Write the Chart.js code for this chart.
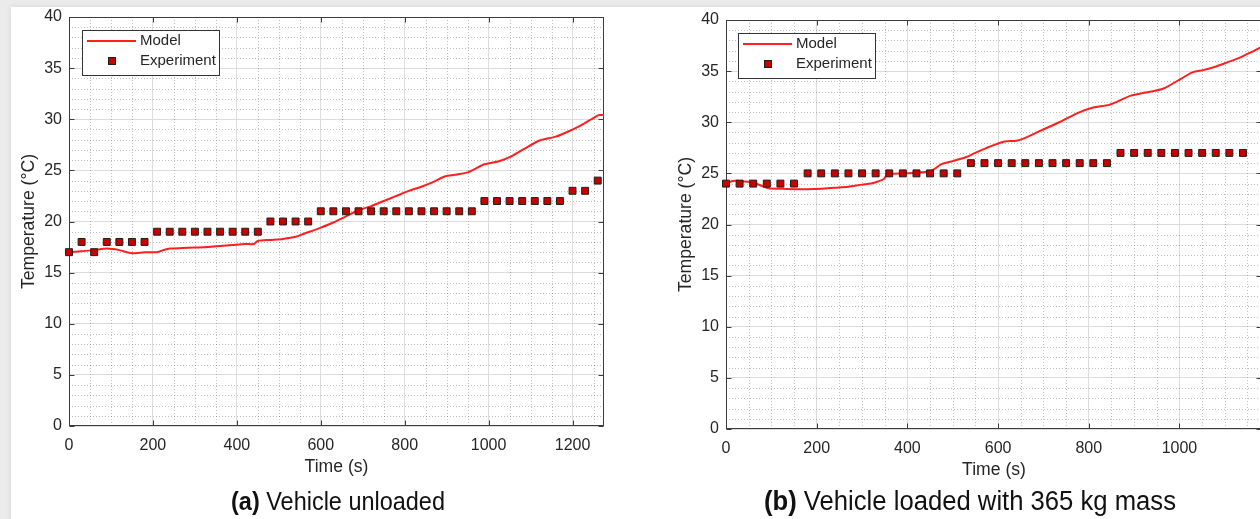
<!DOCTYPE html>
<html>
<head>
<meta charset="utf-8">
<script src="https://cdn.jsdelivr.net/npm/chart.js@4.4.0/dist/chart.umd.min.js"></script>
<style>
html,body{margin:0;padding:0;width:1260px;height:519px;overflow:hidden;background:#ebebeb;}
#page{position:absolute;left:11px;top:7px;width:1400px;height:600px;background:#fff;box-shadow:0 0 5px rgba(0,0,0,0.10);}
.wrap{position:absolute;top:0;height:519px;}
#w1{left:0;width:640px;}
#w2{left:640px;width:720px;}
canvas{display:block;}
.cap{position:absolute;top:486px;font-family:'Liberation Sans',Arial,sans-serif;line-height:30px;color:#111;white-space:nowrap;transform-origin:50% 50%;}
#cap1{left:338px;font-size:25.5px;transform:translateX(-50%) scaleX(0.92);}
#cap2{left:970px;font-size:27px;transform:translateX(-50%) scaleX(0.95);}
.cap b{font-weight:bold;}
</style>
</head>
<body>
<div id="page"></div>
<div class="wrap" id="w1"><canvas id="c1" width="640" height="519"></canvas></div>
<div class="wrap" id="w2"><canvas id="c2" width="720" height="519"></canvas></div>
<div class="cap" id="cap1"><b>(a)</b> Vehicle unloaded</div>
<div class="cap" id="cap2"><b>(b)</b> Vehicle loaded with 365 kg mass</div>
<script>
// ---------- data ----------
const xTicks = [0, 200, 400, 600, 800, 1000, 1200];
const yTicks = [0, 5, 10, 15, 20, 25, 30, 35, 40];

const leftModelTime = [0, 30, 60, 90, 120, 150, 180, 210, 225, 240, 270, 300, 330, 360, 390, 420, 440, 450, 480, 510, 540, 560, 600, 630, 660, 690, 720, 750, 780, 810, 840, 870, 895, 925, 950, 970, 990, 1025, 1055, 1085, 1120, 1160, 1190, 1220, 1245, 1262, 1275];
const leftModelTemp = [17.0, 17.1, 17.2, 17.35, 17.2, 16.9, 17.0, 17.0, 17.2, 17.35, 17.4, 17.45, 17.5, 17.6, 17.7, 17.8, 17.8, 18.1, 18.2, 18.3, 18.5, 18.8, 19.4, 19.9, 20.5, 21.1, 21.5, 22.0, 22.5, 23.0, 23.4, 23.9, 24.4, 24.6, 24.8, 25.2, 25.6, 25.9, 26.4, 27.1, 27.9, 28.3, 28.8, 29.4, 30.0, 30.4, 30.4];

const leftExpTime = [0, 30, 60, 90, 120, 150, 180, 210, 240, 270, 300, 330, 360, 390, 420, 450, 480, 510, 540, 570, 600, 630, 660, 690, 720, 750, 780, 810, 840, 870, 900, 930, 960, 990, 1020, 1050, 1080, 1110, 1140, 1170, 1200, 1230, 1260];
const leftExpTemp = [17, 18, 17, 18, 18, 18, 18, 19, 19, 19, 19, 19, 19, 19, 19, 19, 20, 20, 20, 20, 21, 21, 21, 21, 21, 21, 21, 21, 21, 21, 21, 21, 21, 22, 22, 22, 22, 22, 22, 22, 23, 23, 24];

const rightModelTime = [0, 15, 30, 60, 80, 95, 120, 150, 180, 210, 240, 270, 300, 320, 335, 348, 356, 390, 420, 450, 462, 475, 500, 530, 545, 575, 612, 640, 656, 695, 735, 775, 806, 845, 862, 893, 925, 965, 1005, 1030, 1052, 1077, 1108, 1132, 1156, 1182];
const rightModelTemp = [24.0, 24.25, 24.25, 24.1, 23.75, 23.55, 23.5, 23.45, 23.45, 23.5, 23.6, 23.7, 23.9, 24.0, 24.2, 24.45, 24.9, 25.0, 25.05, 25.2, 25.5, 25.9, 26.2, 26.6, 26.9, 27.5, 28.1, 28.2, 28.4, 29.2, 30.0, 30.9, 31.4, 31.7, 32.0, 32.6, 32.9, 33.3, 34.3, 34.9, 35.1, 35.4, 35.9, 36.3, 36.8, 37.4];

const rightExpTime = [0, 30, 60, 90, 120, 150, 180, 210, 240, 270, 300, 330, 360, 390, 420, 450, 480, 510, 540, 570, 600, 630, 660, 690, 720, 750, 780, 810, 840, 870, 900, 930, 960, 990, 1020, 1050, 1080, 1110, 1140];
const rightExpTemp = [24, 24, 24, 24, 24, 24, 25, 25, 25, 25, 25, 25, 25, 25, 25, 25, 25, 25, 26, 26, 26, 26, 26, 26, 26, 26, 26, 26, 26, 27, 27, 27, 27, 27, 27, 27, 27, 27, 27];

const seriesNames = ['Model', 'Experiment'];
const xTitle = 'Time (s)';
const yTitle = 'Temperature (°C)';

// ---------- styling ----------
const FONT = "'Liberation Sans', Arial, sans-serif";
const AXIS_COLOR = '#3c3c3c';
const TEXT_COLOR = '#262626';
const LINE_COLOR = '#ff1f1f';
const MARK_FILL = '#c80000';
const MARK_EDGE = '#1e1e1e';

const matlabFrame = {
  id: 'matlabFrame',
  beforeDatasetsDraw(chart) {
    const {ctx, chartArea: a, scales: {x, y}} = chart;
    ctx.save();
    // minor dotted grid
    ctx.strokeStyle = 'rgba(60,60,60,0.32)';
    ctx.lineWidth = 1;
    ctx.setLineDash([1, 2]);
    ctx.beginPath();
    for (let v = 50; v < x.max; v += 50) {
      if (v % 200 === 0) continue;
      const px = Math.round(x.getPixelForValue(v)) + 0.5;
      ctx.moveTo(px, a.top); ctx.lineTo(px, a.bottom);
    }
    for (let v = 1; v < y.max; v += 1) {
      if (v % 5 === 0) continue;
      const py = Math.round(y.getPixelForValue(v)) + 0.5;
      ctx.moveTo(a.left, py); ctx.lineTo(a.right, py);
    }
    ctx.stroke();
    ctx.setLineDash([]);
    // box
    ctx.strokeStyle = AXIS_COLOR;
    ctx.lineWidth = 1;
    const L = Math.round(a.left) + 0.5, R = Math.round(a.right) - 0.5;
    const T = Math.round(a.top) + 0.5, B = Math.round(a.bottom) - 0.5;
    ctx.strokeRect(L, T, R - L, B - T);
    // inward ticks
    ctx.beginPath();
    const tl = 5;
    xTicks.forEach(v => {
      if (v > x.max) return;
      const px = Math.round(x.getPixelForValue(v)) + 0.5;
      ctx.moveTo(px, B); ctx.lineTo(px, B - tl);
      ctx.moveTo(px, T); ctx.lineTo(px, T + tl);
    });
    yTicks.forEach(v => {
      const py = Math.round(y.getPixelForValue(v)) + 0.5;
      ctx.moveTo(L, py); ctx.lineTo(L + tl, py);
      ctx.moveTo(R, py); ctx.lineTo(R - tl, py);
    });
    ctx.stroke();
    ctx.restore();
  },
  afterDraw(chart, args, opts) {
    if (!opts || opts.x == null) return;
    const ctx = chart.ctx;
    const bx = opts.x, by = opts.y, bw = 137, bh = 45;
    ctx.save();
    ctx.fillStyle = '#ffffff';
    ctx.fillRect(bx, by, bw, bh);
    ctx.strokeStyle = '#333333';
    ctx.lineWidth = 1;
    ctx.strokeRect(bx + 0.5, by + 0.5, bw, bh);
    const r1 = by + 11, r2 = by + 31;
    ctx.strokeStyle = LINE_COLOR;
    ctx.lineWidth = 2;
    ctx.beginPath(); ctx.moveTo(bx + 5, r1); ctx.lineTo(bx + 54, r1); ctx.stroke();
    ctx.fillStyle = MARK_FILL;
    ctx.strokeStyle = MARK_EDGE;
    ctx.lineWidth = 1;
    ctx.fillRect(bx + 26.5, r2 - 3.5, 7, 7);
    ctx.strokeRect(bx + 26.5, r2 - 3.5, 7, 7);
    ctx.fillStyle = TEXT_COLOR;
    ctx.font = "15px " + FONT;
    ctx.textBaseline = 'middle';
    ctx.textAlign = 'left';
    ctx.fillText(seriesNames[0], bx + 58, r1);
    ctx.fillText(seriesNames[1], bx + 58, r2);
    ctx.restore();
  }
};

function makeChart(id, mT, mV, eT, eV, geo) {
  const modelPts = mT.map((t, i) => ({x: t, y: mV[i]}));
  const expPts = eT.map((t, i) => ({x: t, y: eV[i]}));
  return new Chart(document.getElementById(id), {
    type: 'line',
    data: {
      datasets: [
        {label: seriesNames[0], data: modelPts, borderColor: LINE_COLOR, borderWidth: 2, pointRadius: 0, tension: 0.25, fill: false, order: 2},
        {label: seriesNames[1], data: expPts, showLine: false, pointStyle: 'rect', pointRadius: 4.9, pointHoverRadius: 4.9,
         backgroundColor: MARK_FILL, borderColor: MARK_EDGE, pointBorderWidth: 1, borderWidth: 1, clip: false, order: 1}
      ]
    },
    options: {
      responsive: false,
      animation: false,
      events: [],
      layout: {padding: geo.padding},
      plugins: {legend: {display: false}, tooltip: {enabled: false}, matlabFrame: geo.legend},
      scales: {
        x: {
          type: 'linear', min: 0, max: geo.xmax,
          afterBuildTicks: s => { s.ticks = xTicks.filter(v => v <= geo.xmax).map(v => ({value: v})); },
          afterFit: s => { s.height = 52; },
          grid: {color: '#dcdcdc', lineWidth: 1, drawTicks: false},
          border: {display: false},
          ticks: {color: TEXT_COLOR, font: {family: FONT, size: 16}, padding: geo.xpad, maxRotation: 0, autoSkip: false, callback: v => String(v)},
          title: {display: true, text: xTitle, color: TEXT_COLOR, font: {family: FONT, size: 17.6}, padding: {top: 0, bottom: 0}}
        },
        y: {
          type: 'linear', min: 0, max: 40,
          afterBuildTicks: s => { s.ticks = yTicks.map(v => ({value: v})); },
          afterFit: s => { s.width = 50; },
          grid: {color: '#dcdcdc', lineWidth: 1, drawTicks: false},
          border: {display: false},
          ticks: {color: TEXT_COLOR, font: {family: FONT, size: 16}, padding: 7, callback: v => String(v)},
          title: {display: true, text: yTitle, color: TEXT_COLOR, font: {family: FONT, size: 17.6}, padding: {top: 0, bottom: 0}}
        }
      }
    },
    plugins: [matlabFrame]
  });
}

makeChart('c1', leftModelTime, leftModelTemp, leftExpTime, leftExpTemp, {
  padding: {left: 19, top: 17, right: 36, bottom: 41},
  xpad: 10,
  xmax: 1275,
  legend: {x: 82, y: 30}
});
makeChart('c2', rightModelTime, rightModelTemp, rightExpTime, rightExpTemp, {
  padding: {left: 36, top: 20, right: 98, bottom: 38},
  xpad: 10,
  xmax: 1182,
  legend: {x: 98, y: 33}
});
</script>
</body>
</html>
